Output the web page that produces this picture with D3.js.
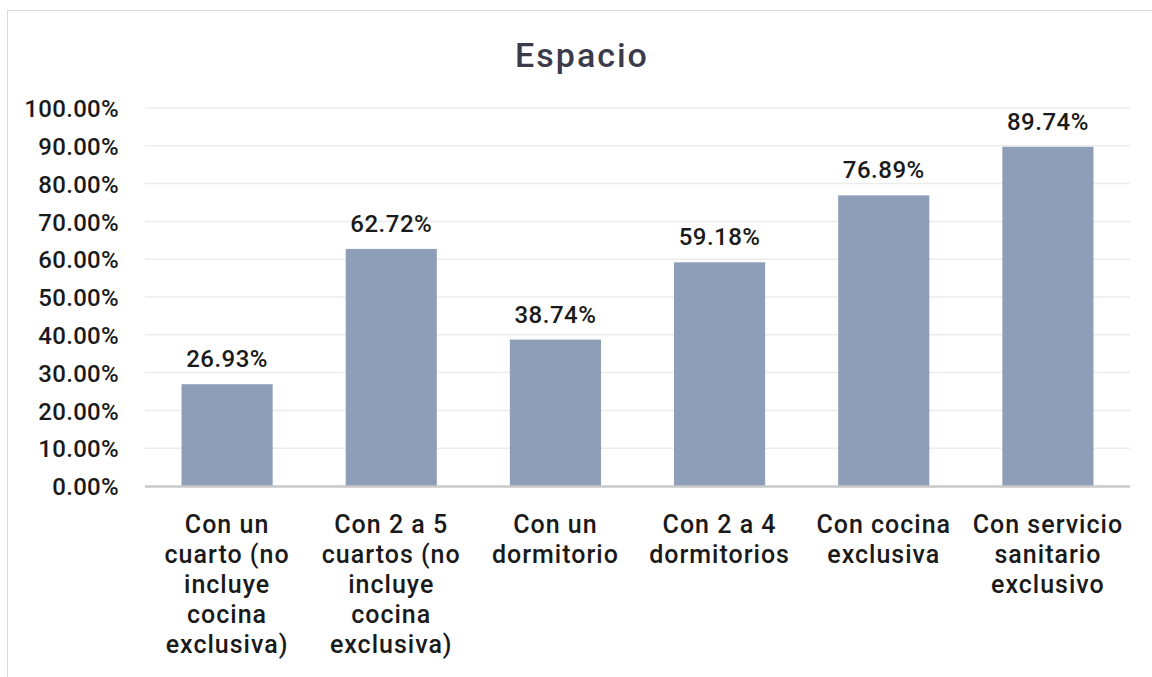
<!DOCTYPE html>
<html><head><meta charset="utf-8">
<script src="https://cdn.jsdelivr.net/npm/d3@7"></script>
<style>
html,body{margin:0;padding:0;background:#fff;}
svg{display:block;font-family:Roboto,"Noto Sans",sans-serif;}
</style></head><body>
<svg id="c" width="1152" height="677"></svg>
<script>
const title = "Espacio";
const categories = [
  "Con un cuarto (no incluye cocina exclusiva)",
  "Con 2 a 5 cuartos (no incluye cocina exclusiva)",
  "Con un dormitorio",
  "Con 2 a 4 dormitorios",
  "Con cocina exclusiva",
  "Con servicio sanitario exclusivo"
];
const values = [26.93, 62.72, 38.74, 59.18, 76.89, 89.74];
const yTicks = [0,10,20,30,40,50,60,70,80,90,100];

const svg = d3.select("#c");
const txt = (sel,size,ls) => sel.attr("font-size",size).attr("font-weight",500).attr("letter-spacing",ls).attr("fill","#1a1a1a");

svg.append("rect").attr("x",7.5).attr("y",10.5).attr("width",1200).attr("height",800)
  .attr("fill","none").attr("stroke","#d9d9d9").attr("stroke-width",1);

const m = {left:145, right:1130, top:108, bottom:486};
const x = d3.scaleBand().domain(categories).range([m.left,m.right]).paddingInner(0.445).paddingOuter(0.2225);
const y = d3.scaleLinear().domain([0,100]).range([m.bottom,m.top]);

svg.append("g").selectAll("line").data(yTicks.filter(d=>d>0)).join("line")
  .attr("x1",m.left).attr("x2",m.right)
  .attr("y1",d=>y(d)).attr("y2",d=>y(d))
  .attr("stroke","#ececec").attr("stroke-width",1.5);

const yAxis = d3.axisLeft(y).tickValues(yTicks).tickSize(0).tickPadding(0)
  .tickFormat(d=>d3.format(".2f")(d)+"%");
const ga = svg.append("g").attr("transform",`translate(119,0)`).call(yAxis);
ga.select(".domain").remove();
ga.selectAll("text").call(txt,24,0.3).attr("font-family","Roboto").attr("dy","0.36em");

svg.append("g").selectAll("rect").data(values).join("rect")
  .attr("x",(d,i)=>x(categories[i])).attr("width",x.bandwidth())
  .attr("y",d=>y(d)).attr("height",d=>y(0)-y(d))
  .attr("fill","#8e9db8");

svg.append("line").attr("x1",m.left).attr("x2",m.right).attr("y1",y(0)+0.5).attr("y2",y(0)+0.5)
  .attr("stroke","#c8c8c8").attr("stroke-width",2.5);

svg.append("g").selectAll("text").data(values).join("text")
  .attr("x",(d,i)=>x(categories[i])+x.bandwidth()/2)
  .attr("y",d=>y(d)-17)
  .attr("text-anchor","middle").call(txt,24,0.5)
  .text(d=>d3.format(".2f")(d)+"%");

const xg = svg.append("g");
categories.forEach((c,i)=>{
  const cx = x(c)+x.bandwidth()/2;
  const t = xg.append("text").attr("text-anchor","middle").call(txt,25,1).attr("x",cx).attr("y",533);
  const words = c.split(" ");
  let line=[], lines=[];
  const tmp = xg.append("text").call(txt,25,1);
  words.forEach(w=>{
    const test=[...line,w].join(" ");
    tmp.text(test);
    if(tmp.node().getComputedTextLength()>158 && line.length){lines.push(line.join(" "));line=[w];}
    else line.push(w);
  });
  lines.push(line.join(" "));
  tmp.remove();
  lines.forEach((l,k)=>t.append("tspan").attr("x",cx).attr("dy",k?30:0).text(l));
});

svg.append("text").attr("x",582).attr("y",67).attr("text-anchor","middle")
  .attr("font-size",34).attr("font-weight",500).attr("fill","#3b3b4b").attr("letter-spacing",2).text(title);
</script></body></html>
